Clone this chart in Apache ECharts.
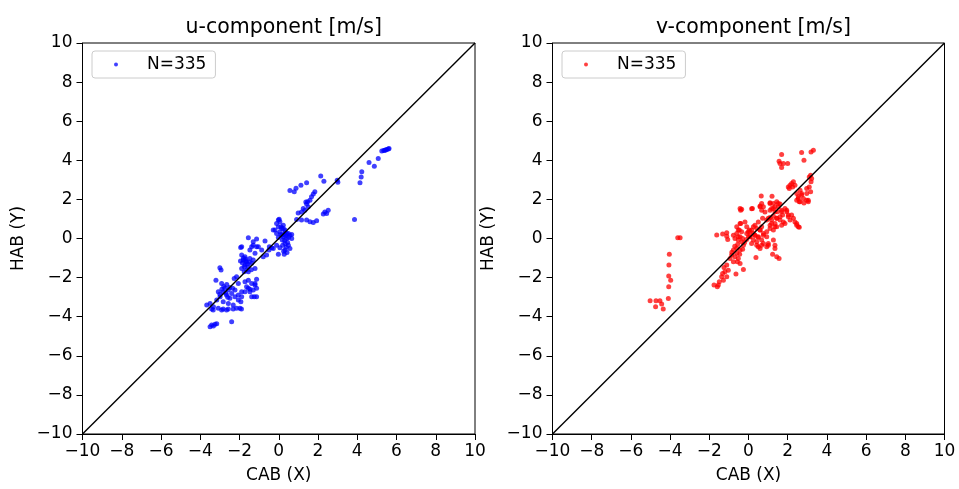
<!DOCTYPE html>
<html>
<head>
<meta charset="utf-8">
<script src="https://cdn.jsdelivr.net/npm/echarts@6/dist/echarts.min.js"></script>
<style>html,body{margin:0;padding:0;background:#fff;}#c{width:959px;height:489px;}</style>
</head>
<body>
<div id="c"></div>
<script>
// ---- data ----
const titles = ['u-component [m/s]', 'v-component [m/s]'];
const xName = 'CAB (X)';
const yName = 'HAB (Y)';
const legendLabel = 'N=335';
const tickValues = [-10, -8, -6, -4, -2, 0, 2, 4, 6, 8, 10];
const diagX = [-10, 10];
const diagY = [-10, 10];

const uPoints = [
[5.25,4.47],[5.35,4.5],[5.45,4.53],[5.5,4.55],[5.58,4.58],[5.62,4.6],[5.4,4.52],
[5.07,4.09],[4.6,3.89],[4.87,3.7],[4.23,3.41],[4.2,3.15],[4.14,2.85],[3.86,0.97],
[2.14,3.2],[2.3,2.93],[2.98,2.98],[3.01,2.88],
[1.42,2.85],[1.13,2.73],[0.88,2.57],[0.79,2.39],[0.57,2.45],
[1.84,2.39],[1.76,2.27],[1.67,2.13],[1.59,1.96],[1.47,1.88],[1.42,1.76],[1.5,1.62],[1.33,1.45],[1.25,1.54],[1.38,1.87],
[0.99,1.31],[1.16,1.36],
[2.35,1.36],[2.52,1.45],[2.44,1.28],[2.27,1.25],
[0.91,0.97],[1.16,0.94],[1.42,0.94],[1.59,0.86],[1.76,0.82],[1.93,0.91],
[-0.02,0.94],[0.06,0.86],[-0.11,0.77],[0.02,0.98],
[-0.28,0.43],[-0.02,0.6],[0.15,0.51],[0.23,0.68],[0.32,0.43],[0.06,0.34],[-0.11,0.26],[0.4,0.26],[0.57,0.17],[0.23,0.09],[-0.02,0.05],
[-0.19,0.43],[0.11,0.6],[0.23,0.51],[0.32,0.34],[0.49,0.26],[0.66,0.21],[0.4,0.0],[0.18,-0.08],[0.32,-0.25],[0.49,-0.34],[0.57,-0.51],[0.32,-0.59],[0.06,-0.47],[-0.11,-0.34],[-0.28,-0.51],[-0.02,-0.81],[0.28,-0.81],[0.66,0.0],[0.15,0.17],
[0.3,-0.1],[0.45,-0.2],[0.2,-0.35],[0.38,-0.45],[0.1,0.2],[0.27,0.22],[0.5,0.05],[0.25,-0.65],[0.42,-0.72],[0.35,0.15],
[-1.55,0.04],[-1.13,-0.03],[-1.3,-0.17],[-0.7,-0.13],[-1.04,-0.42],[-1.38,-0.42],[-0.48,-0.42],[-0.36,-0.47],
[-1.89,-0.42],[-1.47,-0.59],[-1.3,-0.34],[-1.13,-0.42],[-1.21,-0.76],[-0.87,-0.59],[-0.62,-0.85],[-0.79,-0.93],[-0.5,-0.59],[-1.94,-0.46],
[-1.89,-0.85],[-1.72,-0.93],[-1.81,-1.1],[-1.64,-1.19],[-1.47,-1.02],[-1.72,-1.36],[-1.55,-1.44],[-1.89,-1.53],[-1.38,-1.27],[-1.3,-1.1],[-1.21,-1.53],[-1.55,-1.7],[-1.76,-1.7],[-1.64,-1.61],
[-1.8,-1.0],[-1.7,-1.15],[-1.6,-1.3],[-1.68,-1.05],[-1.5,-1.2],[-1.85,-1.25],[-1.75,-1.45],[-1.4,-1.6],[-1.95,-1.15],
[-3.0,-1.5],[-2.94,-1.61],[-3.2,-2.13],
[-2.15,-1.96],[-2.06,-2.3],[-2.27,-2.04],
[-2.91,-2.3],[-2.74,-2.55],[-3.08,-2.72],[-2.83,-2.72],[-2.57,-2.64],[-2.66,-2.89],[-2.4,-2.81],[-2.23,-2.64],[-2.49,-3.06],[-2.99,-2.98],[-3.16,-3.15],[-2.83,-3.23],[-2.57,-3.32],[-2.23,-2.98],[-2.06,-2.89],[-1.89,-2.72],[-2.32,-3.4],[-3.5,-3.32],[-3.67,-3.4],[-3.33,-3.49],[-3.08,-3.57],
[-2.8,-2.45],[-2.65,-2.35],[-2.5,-2.5],[-2.9,-2.6],[-2.7,-2.8],[-2.35,-2.55],[-3.0,-2.85],[-2.6,-3.0],
[-1.72,-2.21],[-1.55,-2.13],[-1.38,-2.3],[-1.64,-2.47],[-1.21,-2.38],[-1.3,-2.64],[-1.47,-2.72],[-1.13,-2.55],[-1.25,-2.98],[-1.38,-2.98],[-1.13,-2.98],[-1.55,-2.55],[-1.72,-2.72],[-1.89,-2.98],[-2.06,-3.15],[-1.93,-3.23],[-1.98,-3.57],[-2.15,-3.57],[-2.66,-3.66],[-2.91,-3.66],
[-1.13,-2.09],[-1.21,-2.3],[-1.47,-2.6],
[-3.42,-4.43],[-3.33,-4.48],[-3.25,-4.39],[-3.16,-4.36],[-3.5,-4.51],[-2.4,-4.26],
[-3.34,-3.66],[-3.42,-3.6],[-2.83,-3.61],[-2.57,-3.61],[-2.32,-3.61],[-1.9,-3.61]
];

const vPoints = [
[1.69,4.3],[2.71,4.4],[3.19,4.43],[3.31,4.52],[2.83,4.0],
[1.56,3.95],[1.61,3.84],[1.78,3.84],[2.0,3.84],[1.69,3.63],
[3.17,3.24],[3.22,3.07],[3.1,3.15],
[2.2,2.81],[2.29,2.9],[2.12,2.73],[2.37,2.73],[2.25,2.64],[2.08,2.56],[2.03,2.64],
[2.97,2.56],[3.17,2.39],[2.63,2.47],[2.46,2.3],[2.71,2.22],[2.54,2.05],[2.8,2.05],[2.97,1.96],[2.59,1.88],[2.83,1.82],[3.05,1.88],
[2.71,2.3],[2.54,2.13],[2.46,1.96],[2.63,1.88],[2.97,2.3],[3.1,2.64],[3.19,2.9],[3.05,1.96],
[0.65,2.17],[1.2,2.16],[-0.43,1.54],[-0.4,1.45],[0.16,1.52],[0.2,1.54],[-0.35,1.49],
[0.59,1.66],[0.76,1.62],[0.67,1.45],[0.84,1.36],
[1.1,1.83],[1.27,1.79],[1.44,1.88],[1.61,1.76],[1.52,1.62],[1.27,1.54],[1.1,1.45],[1.35,1.37],[1.69,1.45],[1.86,1.54],[1.95,1.37],[1.74,1.2],[1.61,1.11],[1.44,1.03],[1.27,1.15],[1.1,1.08],[0.93,0.94],[1.18,0.77],[1.35,0.6],[1.1,0.51],[1.78,0.85],[2.03,1.11],[2.2,1.2],[2.29,1.03],[2.37,0.85],[2.46,0.68],[2.59,0.57],
[0.67,1.79],[0.59,1.62],[1.1,1.79],[1.18,1.54],[1.35,1.62],[1.52,1.79],[1.47,1.37],[1.69,1.37],[1.95,1.45],[2.03,1.2],[2.12,0.94],[2.46,0.77],[2.54,0.6],
[1.01,1.03],[1.18,0.94],[1.44,1.03],[1.61,0.94],[1.35,0.77],[1.1,0.68],[1.44,0.6],[1.69,0.68],[1.86,0.77],[1.27,0.43],
[0.72,1.03],[0.5,0.85],[0.33,0.68],[0.67,0.6],
[0.16,0.43],[-0.01,0.34],[-0.09,0.26],[0.25,0.26],[0.08,0.09],[0.33,0.17],[0.5,0.09],[0.76,0.26],[0.93,0.34],[0.59,0.43],
[-0.52,0.43],[-0.6,0.26],[-0.43,0.09],[-0.69,0.0],[-0.52,-0.08],[-0.35,-0.17],[-0.26,-0.34],
[-0.4,0.77],[-0.18,0.85],[0.04,0.43],[-0.09,0.6],
[-1.62,0.18],[-1.32,0.23],[-1.11,0.12],[-1.06,-0.05],[-1.11,0.3],
[-0.43,0.77],[-0.6,0.6],[-0.47,0.43],[-0.35,0.34],[-0.77,0.17],[-0.52,0.09],[-0.3,0.0],[0.08,0.34],[0.25,0.6],[0.42,0.51],[0.59,0.43],[0.33,0.17],[0.08,0.09],[0.5,0.05],[0.76,0.17],[0.93,0.09],[0.67,-0.08],[0.42,-0.17],[0.25,-0.08],[0.76,-0.25],[1.01,-0.25],[1.27,-0.08],[1.35,-0.51],[0.93,-0.42],[0.5,-0.42],
[0.16,-0.25],[0.42,-0.34],[0.59,-0.51],[0.67,-0.34],[1.01,-0.34],[1.35,-0.34],
[1.23,-0.8],[1.44,-0.93],[1.56,-1.02],[0.38,-0.97],
[-0.77,-0.59],[-0.6,-0.76],[-0.69,-0.93],[-0.52,-1.02],[-0.43,-0.59],[-0.86,-0.85],[-0.94,-1.02],[-0.77,-1.19],[-0.57,-1.19],[-0.43,-1.28],
[-0.7,-0.4],[-0.55,-0.3],[-0.85,-0.7],[-0.6,-0.5],[-0.45,-0.8],[-0.3,-0.55],[-0.2,-0.2],[-0.1,-0.05],[0.0,0.1],
[-1.11,-1.36],[-1.25,-1.48],[-1.03,-1.62],[-1.2,-1.7],[-1.32,-1.79],[-1.11,-1.96],[-1.37,-1.96],[-1.28,-2.13],[-1.49,-2.21],[-1.54,-2.38],[-1.59,-2.47],[-1.76,-2.38],
[-0.64,-1.82],[-0.26,-1.58],
[-3.61,0.04],[-3.49,0.04],[-4.04,-0.8],[-4.06,-1.36],[-4.07,-1.92],[-3.97,-2.13],[-4.07,-2.47],[-4.09,-3.07],[-4.35,-3.61],[-4.43,-3.35],[-4.52,-3.18],[-4.72,-3.18],[-5.02,-3.18],[-4.74,-3.49]
];

// ---- chart ----
const FONT = 'DejaVu Sans';
const chart = echarts.init(document.getElementById('c'), null, {renderer: 'canvas'});
const fmt = v => String(v).replace('-', '\u2212');
const diag = diagX.map((x, i) => [x, diagY[i]]);

function xAxis(gi) {
  return {
    type: 'value', gridIndex: gi, min: tickValues[0], max: tickValues[tickValues.length - 1], interval: 2,
    name: xName, nameLocation: 'middle', nameGap: 33,
    nameTextStyle: {fontFamily: FONT, fontSize: 17, color: '#000'},
    axisLine: {show: true, onZero: false, lineStyle: {color: '#000', width: 1}},
    axisTick: {show: true, length: 6, lineStyle: {color: '#000', width: 1}},
    axisLabel: {fontFamily: FONT, fontSize: 17, color: '#000', margin: 9, formatter: fmt, showMinLabel: true, showMaxLabel: true},
    splitLine: {show: false}
  };
}
function yAxis(gi) {
  return {
    type: 'value', gridIndex: gi, min: tickValues[0], max: tickValues[tickValues.length - 1], interval: 2,
    name: yName, nameLocation: 'middle', nameGap: 55,
    nameTextStyle: {fontFamily: FONT, fontSize: 17, color: '#000'},
    axisLine: {show: true, onZero: false, lineStyle: {color: '#000', width: 1}},
    axisTick: {show: true, length: 6, lineStyle: {color: '#000', width: 1}},
    axisLabel: {fontFamily: FONT, fontSize: 17, color: '#000', margin: 10, formatter: fmt, showMinLabel: true, showMaxLabel: true},
    splitLine: {show: false}
  };
}
function legend(left, name) {
  return {
    left: left, top: 51, orient: 'horizontal', data: [name], selectedMode: false,
    formatter: () => legendLabel,
    icon: 'circle', itemWidth: 4, itemHeight: 4,
    borderColor: '#cccccc', borderWidth: 1, borderRadius: 3,
    backgroundColor: 'rgba(255,255,255,0.8)',
    padding: [5, 9, 5, 22],
    textStyle: {fontFamily: FONT, fontSize: 17, color: '#000', padding: [0, 0, 0, 24]}
  };
}

const option = {
  backgroundColor: '#fff',
  animation: false,
  title: [
    {text: titles[0], left: 278.8, top: 12, textAlign: 'center', textStyle: {fontFamily: FONT, fontSize: 20.5, fontWeight: 'normal', color: '#000'}},
    {text: titles[1], left: 748.5, top: 12, textAlign: 'center', textStyle: {fontFamily: FONT, fontSize: 20.5, fontWeight: 'normal', color: '#000'}}
  ],
  legend: [legend(92, 'u'), legend(562, 'v')],
  grid: [
    {left: 82.5, top: 43, width: 392.5, height: 391, show: true, borderColor: '#000', borderWidth: 1, backgroundColor: 'transparent', containLabel: false, outerBoundsMode: 'none'},
    {left: 552.5, top: 43, width: 392, height: 391, show: true, borderColor: '#000', borderWidth: 1, backgroundColor: 'transparent', containLabel: false, outerBoundsMode: 'none'}
  ],
  xAxis: [xAxis(0), xAxis(1)],
  yAxis: [yAxis(0), yAxis(1)],
  series: [
    {name: 'u', type: 'scatter', xAxisIndex: 0, yAxisIndex: 0, data: uPoints, symbolSize: 5, itemStyle: {color: '#0000ff', opacity: 0.75}, z: 2},
    {name: 'diag-u', type: 'line', xAxisIndex: 0, yAxisIndex: 0, data: diag, symbol: 'none', lineStyle: {color: '#000', width: 1.4}, z: 3},
    {name: 'v', type: 'scatter', xAxisIndex: 1, yAxisIndex: 1, data: vPoints, symbolSize: 5, itemStyle: {color: '#ff0000', opacity: 0.75}, z: 2},
    {name: 'diag-v', type: 'line', xAxisIndex: 1, yAxisIndex: 1, data: diag, symbol: 'none', lineStyle: {color: '#000', width: 1.4}, z: 3}
  ]
};
chart.setOption(option);
</script>
</body>
</html>
